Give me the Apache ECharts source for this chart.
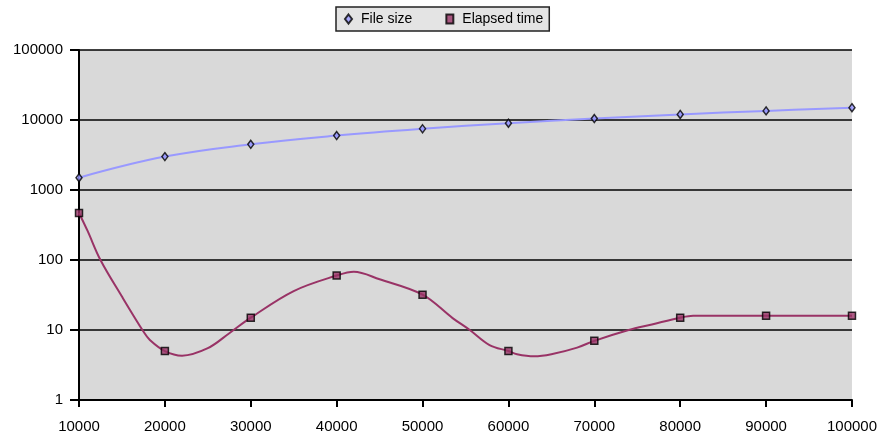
<!DOCTYPE html>
<html><head><meta charset="utf-8">
<script src="https://cdn.jsdelivr.net/npm/echarts@6/dist/echarts.min.js"></script>
<style>html,body{margin:0;padding:0;background:#fff}#c{width:880px;height:442px}</style>
</head><body><div id="c"></div>
<script>
// Marker points
const xMarks = [10000, 20000, 30000, 40000, 50000, 60000, 70000, 80000, 90000, 100000];
const fileSize = [1500, 3000, 4500, 6000, 7500, 9000, 10500, 12000, 13500, 15000];
const elapsed = [470, 5, 15, 60, 32, 5, 7, 15, 16, 16];
// Elapsed-time curve (denser than the markers)
const elapsedCurveX = [10000, 11000, 12500, 15000, 17500, 18250, 20000, 22000, 25000, 27500, 30000, 35000, 40000, 42000, 45000, 50000, 53500, 55500, 57800, 60000, 61000, 63000, 65000, 68000, 70000, 74000, 76700, 80000, 81500, 90000, 100000];
const elapsedCurveY = [470, 260, 100, 30, 9.5, 7.2, 5, 4.3, 5.5, 9, 15, 36, 60, 68, 53, 32, 14.8, 10, 6.1, 5, 4.5, 4.2, 4.5, 5.6, 7, 10, 12, 15, 16, 16, 16];
const yTicks = ['1', '10', '100', '1000', '10000', '100000'];

const chart = echarts.init(document.getElementById('c'));
const font = 'Liberation Sans, Arial, sans-serif';
chart.setOption({
  animation: false,
  textStyle: { fontFamily: font },
  legend: {
    top: 7, left: 336,
    data: ['File size', 'Elapsed time'],
    backgroundColor: '#e4e4e4', borderColor: '#222', borderWidth: 1.5,
    padding: [5, 6, 5, 8], itemGap: 33, itemWidth: 7, itemHeight: 9,
    textStyle: { fontSize: 14, color: '#000', fontFamily: font, padding: [0, 0, 0, 4] }
  },
  grid: { left: 79, right: 27, top: 50, bottom: 42, show: true, backgroundColor: '#d9d9d9', borderWidth: 0 },
  xAxis: {
    type: 'value', min: 10000, max: 100000, interval: 10000,
    axisLine: { lineStyle: { color: '#000', width: 2 } },
    axisTick: { show: true, length: 7, lineStyle: { color: '#000', width: 2 } },
    axisLabel: { color: '#000', fontSize: 15, margin: 19, fontFamily: font,
      formatter: v => String(v) },
    splitLine: { show: false }
  },
  yAxis: {
    type: 'log', logBase: 10, min: 1, max: 100000,
    axisLine: { show: true, lineStyle: { color: '#000', width: 2 } },
    axisTick: { show: true, length: 9, lineStyle: { color: '#000', width: 2 } },
    axisLabel: { color: '#000', fontSize: 15, margin: 16, fontFamily: font,
      formatter: v => yTicks.find(t => Number(t) === Math.round(v)) || '' },
    splitLine: { show: true, lineStyle: { color: '#000', width: 1.5 } }
  },
  series: [
    { name: 'File size line', type: 'line', smooth: 0.4, showSymbol: false,
      lineStyle: { color: '#9999ff', width: 2 },
      data: xMarks.map((x, i) => [x, fileSize[i]]), z: 2 },
    { name: 'Elapsed time line', type: 'line', smooth: 0.35, showSymbol: false,
      lineStyle: { color: '#993366', width: 2 },
      data: elapsedCurveX.map((x, i) => [x, elapsedCurveY[i]]), z: 2 },
    { name: 'File size', type: 'scatter', symbol: 'diamond', symbolSize: [6, 8],
      itemStyle: { color: '#9999ff', borderColor: '#000', borderWidth: 1.5 },
      data: xMarks.map((x, i) => [x, fileSize[i]]), z: 5 },
    { name: 'Elapsed time', type: 'scatter', symbol: 'rect', symbolSize: 7,
      itemStyle: { color: '#993366', borderColor: '#000', borderWidth: 1.5 },
      data: xMarks.map((x, i) => [x, elapsed[i]]), z: 5 }
  ]
});
</script></body></html>
